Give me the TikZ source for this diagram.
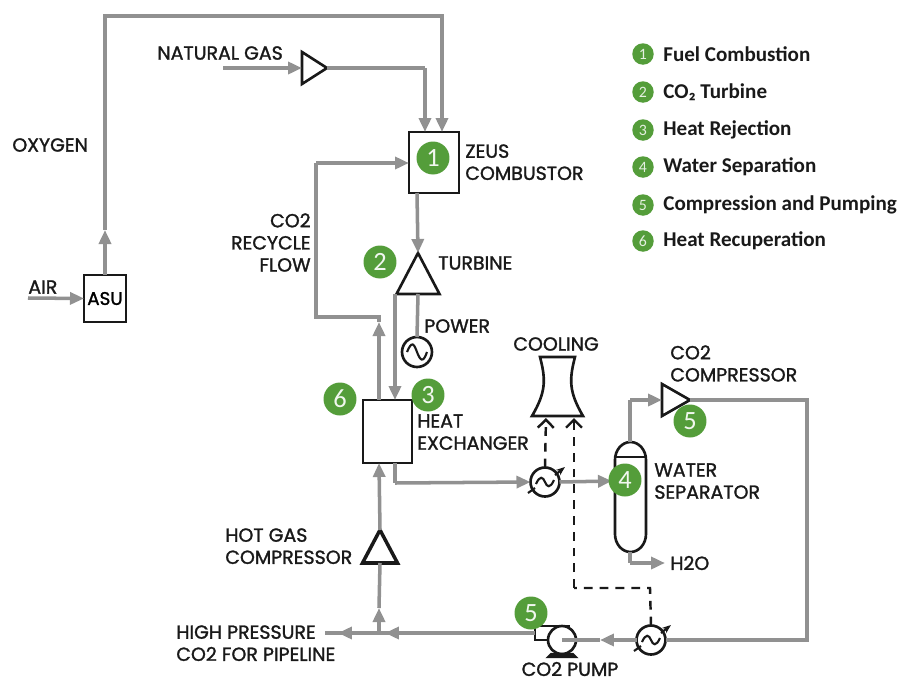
\documentclass[tikz,border=0pt]{standalone}
\usepackage{fontspec}
\setmainfont{Poppins}[FakeBold=1.4]
\newfontfamily\legendfont{Carlito}
\usetikzlibrary{arrows.meta,shapes.geometric}
\definecolor{pipegray}{RGB}{145,145,145}
\definecolor{stepgreen}{RGB}{84,157,58}
\definecolor{inkblack}{RGB}{25,25,25}
\tikzset{
  lbl/.style={font=\fontsize{10.8}{12.6}\selectfont, text=inkblack, align=left, inner sep=0pt},
  lblr/.style={lbl, align=right},
  equip/.style={draw=inkblack, line width=1.5pt, inner sep=0pt, outer sep=0pt},
  vessel/.style={equip, rectangle, minimum width=0.84cm, minimum height=0.94cm},
  comp/.style={equip, isosceles triangle, isosceles triangle stretches, anchor=apex},
  hxcirc/.style={equip, circle, minimum size=0.58cm},
  badge/.style={circle, fill=stepgreen, text=white!92!stepgreen, minimum size=0.66cm, inner sep=0pt, font=\legendfont\fontsize{15}{15}\selectfont},
  minibadge/.style={circle, fill=stepgreen, text=white!85!stepgreen, minimum size=0.43cm, inner sep=0pt, font=\legendfont\fontsize{9}{9}\selectfont},
  legendtxt/.style={anchor=west, inner sep=0pt, text=inkblack, font=\legendfont\bfseries\fontsize{12}{14}\selectfont},
  pipe/.style={draw=pipegray, line width=2pt, -{Triangle[length=2.8mm,width=2.4mm]}},
  plainpipe/.style={draw=pipegray, line width=2pt},
  coolant/.style={draw=inkblack, line width=1.4pt, dash pattern=on 5pt off 4pt, -{Straight Barb[length=1.6mm,width=3.2mm]}},
  coolplain/.style={draw=inkblack, line width=1.4pt, dash pattern=on 5pt off 4pt},
  zigzag/.pic={
    \draw[line width=1.2pt, inkblack] (-9,2) .. controls (-5,-7) and (-2,-5) .. (0,0) .. controls (2,5) and (5,7) .. (9,-2);
    \draw[line width=1.2pt, inkblack] (-17,11) -- (-10,6);
    \draw[line width=1.2pt, inkblack, -{Stealth[length=1.8mm]}] (10,-7) -- (20,-15);
  }
}
\begin{document}
\begin{tikzpicture}[x=0.02cm,y=-0.02cm]
  \useasboundingbox (0,0) rectangle (904,680);

  % equipment
  \node[vessel] (asu) at (105,298.5) {\fontsize{10.4}{12}\selectfont ASU};
  \node[equip, minimum width=1cm, minimum height=1.22cm] (zeus) at (434,162.5) {};
  \node[comp, minimum width=0.86cm, minimum height=0.82cm, shape border rotate=90] (turbine) at (418,253) {};
  \node[comp, minimum width=0.64cm, minimum height=0.5cm, shape border rotate=0, anchor=apex] (gascomp) at (327,68) {};
  \node[equip, circle, minimum size=0.6cm] (gen) at (417,352) {};
  \draw[line width=1.2pt, inkblack] (407,352) .. controls (412,340) and (414,344) .. (417,352) .. controls (420,360) and (423,364) .. (427,352);
  \node[equip, minimum width=0.98cm, minimum height=1.26cm] (hx) at (387.5,431.5) {};
  \node[comp, line width=2pt, minimum width=0.7cm, minimum height=0.66cm, shape border rotate=90] (hotgas) at (380,530) {};
  \node[comp, minimum width=0.64cm, minimum height=0.56cm, shape border rotate=0] (co2comp) at (690,400) {};
  \node[hxcirc] (cooler) at (545,482) {};
  \pic at (cooler) {zigzag};
  \node[hxcirc] (cooler2) at (651,640) {};
  \pic at (cooler2) {zigzag};
  \node[equip, circle, minimum size=0.56cm] (pump) at (562,640) {};

  % cooling tower
  \draw[equip, line cap=round] (532,416) .. controls (546,392) and (546,380) .. (540,357) -- (575,357) .. controls (569,380) and (569,392) .. (583,416) -- cycle;
  \coordinate (towerl) at (546,418);
  \coordinate (towerr) at (574,418);

  % water separator
  \draw[equip] (615,460) arc[start angle=180, end angle=360, x radius=15.5, y radius=18] -- (646,534) arc[start angle=0, end angle=180, x radius=15.5, y radius=18] -- cycle;
  \draw[equip] (615,457) -- (646,457);
  \coordinate (sepin) at (612,481);
  \coordinate (septop) at (630,442);
  \coordinate (sepbot) at (630,552);

  % pump details
  \draw[equip] (570,626) -- (535,626) -- (535,640) -- (549,640);
  \draw[equip, line width=1.2pt, fill=inkblack] (551,654) -- (573,654) -- (576,657) -- (548,657) -- cycle;

  % pipes
  \coordinate (air) at (28,298);
  \coordinate (ngas) at (223,68);
  \coordinate (o1) at (105,16);
  \coordinate (o2) at (442,16);
  \coordinate (zo2) at (442,132);
  \coordinate (zng) at (425,132);
  \coordinate (zout) at (417,193);
  \coordinate (hxup) at (379,400);
  \coordinate (rec) at (379,322);
  \coordinate (rectop) at (379,317);
  \coordinate (rec2) at (316,317);
  \coordinate (rec3) at (316,163);
  \coordinate (zin) at (409,163);
  \coordinate (hxin) at (395,400);
  \coordinate (tout) at (395,294);
  \coordinate (hxout) at (395,463);
  \coordinate (hxc) at (395,483);
  \coordinate (hxlow) at (379,463);
  \coordinate (hpend) at (325,633);
  \coordinate (hphead) at (338,633);
  \coordinate (hptee) at (379,633);
  \coordinate (teehead) at (385,633);
  \coordinate (teeup) at (379,608);
  \coordinate (pumpl) at (535,633);
  \coordinate (pumpmid) at (600,640);
  \coordinate (h2o) at (665,563);
  \coordinate (sepb2) at (630,563);
  \coordinate (sept2) at (630,400);
  \coordinate (compin) at (662,400);
  \coordinate (c1) at (807,400);
  \coordinate (c2) at (807,640);

  \draw[pipe] (air) -- (asu.west);
  \draw[pipe] (asu.north) -- (105,230);
  \draw[plainpipe] (105,230) -- (o1) -- (o2) -- (442,100);
  \draw[pipe] (442,100) -- (zo2);
  \draw[pipe] (ngas) -- (gascomp.lower side);
  \draw[plainpipe] (gascomp.apex) -- (425,68);
  \draw[pipe] (425,68) -- (zng);
  \draw[pipe] (zout) -- (turbine.apex);
  \draw[plainpipe] (turbine.lower side) -- (gen.north);
  \draw[pipe] (tout) -- (hxin);
  \draw[pipe] (hxup) -- (rec);
  \draw[plainpipe] (rec) -- (rectop) -- (rec2) -- (rec3);
  \draw[pipe] (rec3) -- (zin);
  \draw[plainpipe] (hxout) -- (hxc);
  \draw[pipe] (hxc) -- (cooler.west);
  \draw[pipe] (cooler.east) -- (sepin);
  \draw[plainpipe] (septop) -- (sept2);
  \draw[pipe] (sept2) -- (compin);
  \draw[plainpipe] (sepbot) -- (sepb2);
  \draw[pipe] (sepb2) -- (h2o);
  \draw[plainpipe] (co2comp.apex) -- (c1) -- (c2) -- (cooler2.east);
  \draw[pipe] (cooler2.west) -- (pumpmid);
  \draw[plainpipe] (pumpmid) -- (pump.center);
  \draw[plainpipe] (pumpl) -- (hpend);
  \draw[pipe] (pumpl) -- (teehead);
  \draw[pipe] (hptee) -- (hphead);
  \draw[pipe] (hptee) -- (teeup);
  \draw[plainpipe] (teeup) -- (hotgas.lower side);
  \draw[pipe] (hotgas.apex) -- (hxlow);

  % cooling water
  \draw[coolant] (cooler.north) -- (towerl);
  \coordinate (dashn) at (650,588);
  \coordinate (dashw) at (574,588);
  \draw[coolplain] (cooler2.north) -- (dashn) -- (dashw);
  \draw[coolant] (dashw) -- (towerr);

  % labels
  \node[lbl, anchor=west] (loxy) at (12,145) {OXYGEN};
  \node[lbl, anchor=west] (lng) at (157,53) {NATURAL GAS};
  \node[lbl, anchor=west] (lair) at (28,287) {AIR};
  \node[lbl, anchor=north west] (lzeus) at (465,144) {ZEUS\\COMBUSTOR};
  \node[lblr, anchor=north east] (lrec) at (311,213) {CO2\\RECYCLE\\FLOW};
  \node[lbl, anchor=west] (lturb) at (438,263) {TURBINE};
  \node[lbl, anchor=west] (lpow) at (424,326) {POWER};
  \node[lbl, anchor=west] (lcool) at (513,344) {COOLING};
  \node[lbl, anchor=north west] (lhx) at (417,414) {HEAT\\EXCHANGER};
  \node[lbl, anchor=north west] (lcomp) at (670,345) {CO2\\COMPRESSOR};
  \node[lbl, anchor=north west] (lsep) at (654,463) {WATER\\SEPARATOR};
  \node[lbl, anchor=west] (lh2o) at (670,563) {H2O};
  \node[lbl, anchor=north west] (lhot) at (225,528) {HOT GAS\\COMPRESSOR};
  \node[lbl, anchor=north west] (lhp) at (176,625) {HIGH PRESSURE\\CO2 FOR PIPELINE};
  \node[lbl] (lpump) at (570,669) {CO2 PUMP};

  % step numbers
  \node[badge] (n1) at (433,158) {1};
  \node[badge] (n2) at (380,262) {2};
  \node[badge] (n3) at (428,395) {3};
  \node[badge] (n4) at (625,480) {4};
  \node[badge] (n5) at (690,421) {5};
  \node[badge] (n5b) at (531,613) {5};
  \node[badge] (n6) at (340,399) {6};

  % legend
  \foreach \ypos/\num/\txt in {54/1/Fuel Combustion, 92/2/CO₂ Turbine, 130/3/Heat Rejection, 167/4/Water Separation, 205/5/Compression and Pumping, 241/6/Heat Recuperation} {
    \node[minibadge] (leg\num) at (643,\ypos) {\num};
    \node[legendtxt] (legt\num) at (663,\ypos) {\txt};
  }
\end{tikzpicture}
\end{document}
